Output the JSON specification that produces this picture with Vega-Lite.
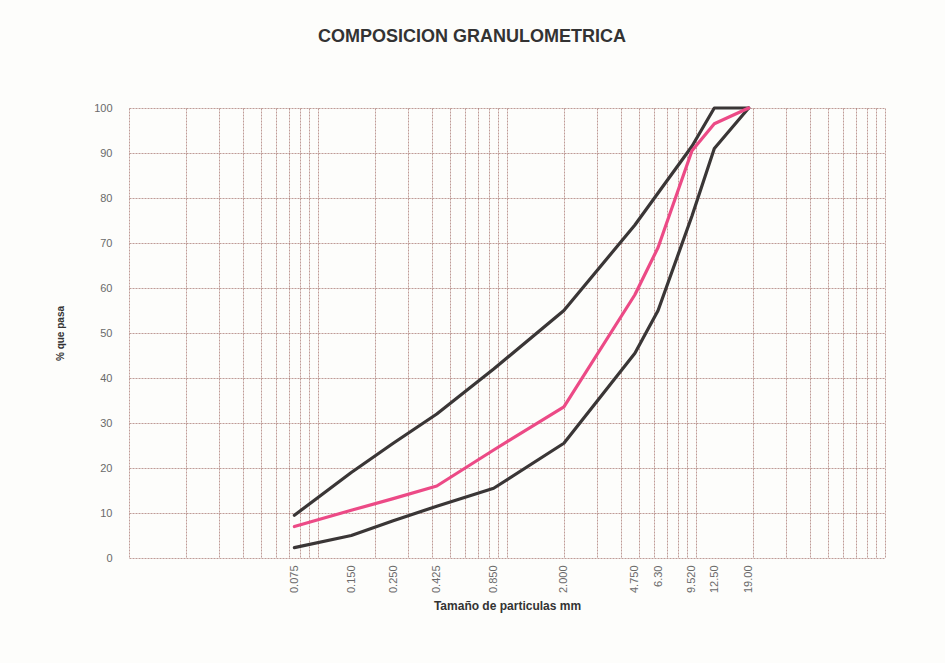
{
  "$schema": "https://vega.github.io/schema/vega-lite/v6.json",
  "autosize": {"type": "none"},
  "width": 756,
  "height": 450,
  "padding": {"left": 129, "top": 108, "right": 60, "bottom": 105},
  "background": "#fdfdfb",
  "title": {
    "text": "COMPOSICION GRANULOMETRICA",
    "font": "Liberation Sans",
    "fontSize": 18,
    "fontWeight": "bold",
    "color": "#333333",
    "anchor": "middle",
    "dx": -35,
    "offset": 56
  },
  "data": {
    "values": [
      {"mm": 0.075, "pasa": 9.5, "serie": "Límite superior"},
      {"mm": 0.15, "pasa": 19, "serie": "Límite superior"},
      {"mm": 0.25, "pasa": 25.5, "serie": "Límite superior"},
      {"mm": 0.425, "pasa": 32, "serie": "Límite superior"},
      {"mm": 0.85, "pasa": 42, "serie": "Límite superior"},
      {"mm": 2.0, "pasa": 55, "serie": "Límite superior"},
      {"mm": 4.75, "pasa": 74, "serie": "Límite superior"},
      {"mm": 9.52, "pasa": 91.5, "serie": "Límite superior"},
      {"mm": 12.5, "pasa": 100, "serie": "Límite superior"},
      {"mm": 19.0, "pasa": 100, "serie": "Límite superior"},
      {"mm": 0.075, "pasa": 2.3, "serie": "Límite inferior"},
      {"mm": 0.15, "pasa": 5, "serie": "Límite inferior"},
      {"mm": 0.25, "pasa": 8.3, "serie": "Límite inferior"},
      {"mm": 0.425, "pasa": 11.5, "serie": "Límite inferior"},
      {"mm": 0.85, "pasa": 15.5, "serie": "Límite inferior"},
      {"mm": 2.0, "pasa": 25.5, "serie": "Límite inferior"},
      {"mm": 4.75, "pasa": 45.5, "serie": "Límite inferior"},
      {"mm": 6.3, "pasa": 55, "serie": "Límite inferior"},
      {"mm": 9.52, "pasa": 76, "serie": "Límite inferior"},
      {"mm": 12.5, "pasa": 91, "serie": "Límite inferior"},
      {"mm": 19.0, "pasa": 100, "serie": "Límite inferior"},
      {"mm": 0.075, "pasa": 7, "serie": "Muestra"},
      {"mm": 0.15, "pasa": 10.6, "serie": "Muestra"},
      {"mm": 0.25, "pasa": 13.2, "serie": "Muestra"},
      {"mm": 0.425, "pasa": 16, "serie": "Muestra"},
      {"mm": 0.85, "pasa": 24, "serie": "Muestra"},
      {"mm": 2.0, "pasa": 33.6, "serie": "Muestra"},
      {"mm": 4.75, "pasa": 58.5, "serie": "Muestra"},
      {"mm": 6.3, "pasa": 69, "serie": "Muestra"},
      {"mm": 9.52, "pasa": 90.5, "serie": "Muestra"},
      {"mm": 12.5, "pasa": 96.5, "serie": "Muestra"},
      {"mm": 19.0, "pasa": 100, "serie": "Muestra"}
    ]
  },
  "mark": {"type": "line", "strokeJoin": "round", "strokeCap": "round"},
  "encoding": {
    "x": {
      "field": "mm",
      "type": "quantitative",
      "scale": {"type": "log", "domain": [0.01, 100], "nice": false},
      "axis": {
        "title": "Tamaño de particulas mm",
        "titleFont": "Liberation Sans",
        "titleFontSize": 12,
        "titleFontWeight": "bold",
        "titleColor": "#333333",
        "titlePadding": 8,
        "values": [0.01,0.02,0.03,0.04,0.05,0.06,0.07,0.075,0.08,0.09,0.1,0.15,0.2,0.25,0.3,0.4,0.425,0.5,0.6,0.7,0.8,0.85,0.9,1,2,3,4,4.75,5,6,6.3,7,8,9,9.52,10,12.5,19,20,30,40,50,60,70,80,90,100],
        "labelExpr": "datum.value == 0.075 ? '0.075' : datum.value == 0.15 ? '0.150' : datum.value == 0.25 ? '0.250' : datum.value == 0.425 ? '0.425' : datum.value == 0.85 ? '0.850' : datum.value == 2 ? '2.000' : datum.value == 4.75 ? '4.750' : datum.value == 6.3 ? '6.30' : datum.value == 9.52 ? '9.520' : datum.value == 12.5 ? '12.50' : datum.value == 19 ? '19.00' : ''",
        "labelAngle": 270,
        "labelFont": "Liberation Sans",
        "labelFontSize": 11,
        "labelColor": "#6a6a6a",
        "labelPadding": 7,
        "labelOverlap": false,
        "labelBound": false,
        "ticks": false,
        "domain": false,
        "grid": true,
        "gridColor": "#8c4a44",
        "gridDash": [2, 1],
        "gridWidth": 1,
        "gridOpacity": {
          "condition": {"test": "indexof([0.075,0.15,0.25,0.425,0.85,4.75,6.3,9.52,12.5,19], datum.value) >= 0", "value": 0},
          "value": 0.55
        }
      }
    },
    "y": {
      "field": "pasa",
      "type": "quantitative",
      "scale": {"domain": [0, 100], "nice": false},
      "axis": {
        "title": "% que pasa",
        "titleFont": "Liberation Sans",
        "titleFontSize": 10,
        "titleFontWeight": "bold",
        "titleColor": "#333333",
        "titlePadding": 28,
        "values": [0,10,20,30,40,50,60,70,80,90,100],
        "labelFont": "Liberation Sans",
        "labelFontSize": 11,
        "labelColor": "#6a6a6a",
        "labelPadding": 17,
        "ticks": false,
        "domain": false,
        "grid": true,
        "gridColor": "#8c4a44",
        "gridDash": [2, 1],
        "gridWidth": 1,
        "gridOpacity": 0.55
      }
    },
    "color": {
      "field": "serie",
      "type": "nominal",
      "scale": {"domain": ["Límite superior", "Límite inferior", "Muestra"], "range": ["#3a3636", "#3a3636", "#ec4a86"]},
      "legend": null
    },
    "strokeWidth": {
      "field": "serie",
      "type": "nominal",
      "scale": {"domain": ["Límite superior", "Límite inferior", "Muestra"], "range": [3.2, 3.2, 1.4]},
      "legend": null
    }
  },
  "config": {"view": {"stroke": null}}
}
